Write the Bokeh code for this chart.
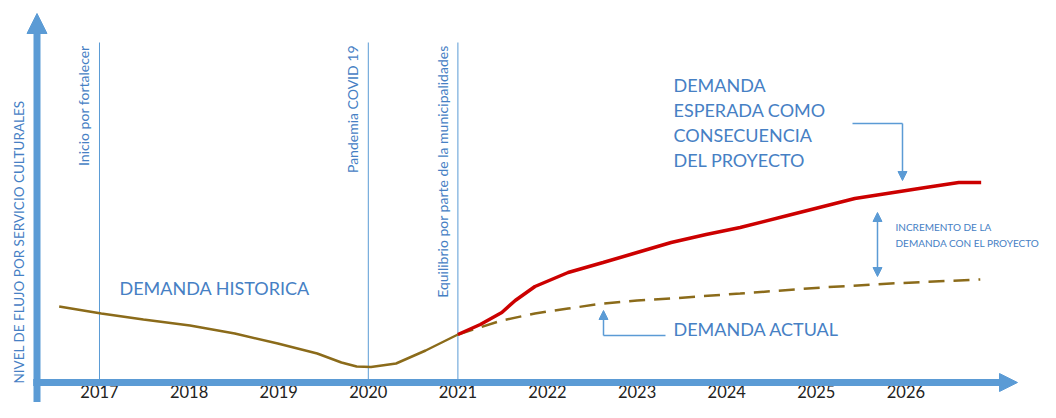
from bokeh.plotting import figure
from bokeh.models import Range1d, Arrow, NormalHead, ColumnDataSource
from bokeh.core.properties import value
from bokeh.embed import file_html
from bokeh.resources import INLINE

# ---------------- data ----------------
years = [2017, 2018, 2019, 2020, 2021, 2022, 2023, 2024, 2025, 2026]
tick_labels = ["2017", "2018", "2019", "2020", "2021", "2022", "2023", "2024", "2025", "2026"]

event_years = [2017, 2020, 2021]
event_labels = ["Inicio por fortalecer", "Pandemia COVID 19",
                "Equilibrio por parte de la municipalidades"]

hist_year = [2016.55, 2017.02, 2017.49, 2018.01, 2018.51, 2018.99, 2019.43,
             2019.70, 2019.87, 2020.03, 2020.31, 2020.64, 2021.0]
hist_level = [19.0, 17.25, 15.75, 14.25, 12.25, 9.75, 7.25, 5.0, 4.0, 3.9,
              4.75, 8.0, 12.0]

proj_year = [2021.0, 2021.25, 2021.49, 2021.64, 2021.86, 2022.23, 2022.62, 2023.0,
             2023.38, 2023.77, 2024.15, 2024.68, 2025.43, 2026.22, 2026.59, 2026.84]
proj_level = [12.0, 14.5, 17.5, 20.5, 24.0, 27.5, 30.0, 32.5, 35.0, 37.0, 38.75,
              41.75, 46.0, 48.75, 50.0, 50.0]

curr_year = [2021.0, 2021.49, 2021.86, 2022.23, 2022.62, 2023.0, 2023.38,
             2024.15, 2025.06, 2025.83, 2026.83]
curr_level = [12.0, 15.5, 17.25, 18.5, 19.75, 20.5, 21.0, 22.25, 23.75, 24.75, 25.75]

# ---------------- styles ----------------
BLUE = "#5b9bd5"
TXT = "#4680c4"
OLIVE = "#8b6b1a"
RED = "#cc0000"
FONT = value("Lato")

p = figure(width=1040, height=402, output_backend="svg", toolbar_location=None,
           x_range=Range1d(2015.8951, 2027.5022), y_range=Range1d(-5.0, 95.5),
           min_border_left=0, min_border_right=0, min_border_top=0,
           min_border_bottom=0)
p.outline_line_color = None
p.grid.visible = False
p.xaxis.visible = False
p.yaxis.visible = False
p.background_fill_color = "white"
p.border_fill_color = "white"

# axes drawn as arrows
p.add_layout(Arrow(x_start=2016.3025, y_start=-5, x_end=2016.3025, y_end=92.25,
                   line_color=BLUE, line_width=7,
                   end=NormalHead(size=20, fill_color=BLUE, line_color=BLUE)))
p.add_layout(Arrow(x_start=2016.26, y_start=0, x_end=2027.2455, y_end=0,
                   line_color=BLUE, line_width=7,
                   end=NormalHead(size=18, fill_color=BLUE, line_color=BLUE)))

# year tick labels
p.text(x=years, y=[-2.25] * len(years), text=tick_labels, text_align="center",
       text_baseline="alphabetic", text_font=FONT, text_font_size="16.5px",
       text_color="#222222")

# event lines
ev = ColumnDataSource(dict(x=event_years, t=event_labels))
p.segment(x0="x", y0=0, x1="x", y1=85, source=ev, line_color=BLUE, line_width=1)
p.text(x="x", y=84.25, text="t", source=ev, angle=1.5708, text_align="right",
       text_baseline="bottom", x_offset=-7, text_font=FONT,
       text_font_size="14px", text_color=TXT)

# curves
p.line(hist_year, hist_level, line_color=OLIVE, line_width=2.5)
p.line(curr_year, curr_level, line_color=OLIVE, line_width=2.5, line_dash="16 9")
p.line(proj_year, proj_level, line_color=RED, line_width=3.5)

# y-axis title
p.text(x=[2016.096], y=[35.125], text=["NIVEL DE FLUJO POR SERVICIO CULTURALES"],
       angle=1.5708, text_align="center", text_baseline="middle", text_font=FONT,
       text_font_size="13.5px", text_color=TXT)

# annotations
p.text(x=[2017.2232], y=[23.75], text=["DEMANDA HISTORICA"], text_font=FONT,
       text_font_size="18px", text_color=TXT, text_baseline="alphabetic")
esp_lines = ["DEMANDA", "ESPERADA COMO", "CONSECUENCIA", "DEL PROYECTO"]
p.text(x=[2023.4063] * 4, y=[74.5 - i * 6.33 for i in range(4)], text=esp_lines,
       text_font=FONT, text_font_size="18px", text_color=TXT,
       text_baseline="alphabetic")
p.text(x=[2023.4063], y=[13.4], text=["DEMANDA ACTUAL"], text_font=FONT,
       text_font_size="18px", text_color=TXT, text_baseline="alphabetic")
p.text(x=[2025.8839, 2025.8839], y=[39.0, 34.9],
       text=["INCREMENTO DE LA", "DEMANDA CON EL PROYECTO"], text_font=FONT,
       text_font_size="10px", text_color=TXT, text_baseline="alphabetic")

# annotation arrows
p.line([2025.404, 2025.962], [64.75, 64.75], line_color=BLUE, line_width=1.5)
p.add_layout(Arrow(x_start=2025.962, y_start=64.75, x_end=2025.962, y_end=50.5,
                   line_color=BLUE, line_width=1.5,
                   end=NormalHead(size=9, fill_color=BLUE, line_color=BLUE)))
p.add_layout(Arrow(x_start=2025.683, y_start=26.5, x_end=2025.683, y_end=42.5,
                   line_color=BLUE, line_width=1.5,
                   start=NormalHead(size=9, fill_color=BLUE, line_color=BLUE),
                   end=NormalHead(size=9, fill_color=BLUE, line_color=BLUE)))
p.line([2023.317, 2022.625], [11.75, 11.75], line_color=BLUE, line_width=1.5)
p.add_layout(Arrow(x_start=2022.625, y_start=11.75, x_end=2022.625, y_end=18.0,
                   line_color=BLUE, line_width=1.5,
                   end=NormalHead(size=9, fill_color=BLUE, line_color=BLUE)))

open("out.html", "w").write(file_html(p, INLINE))
